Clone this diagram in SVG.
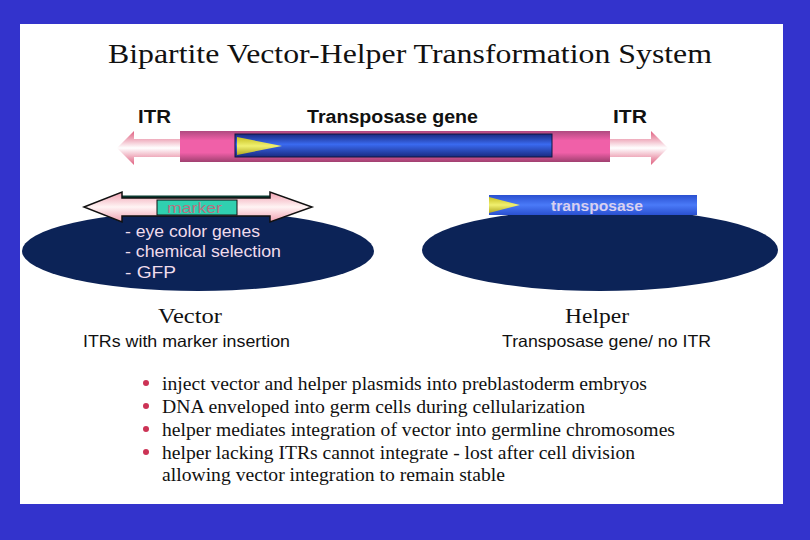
<svg xmlns="http://www.w3.org/2000/svg" width="810" height="540" viewBox="0 0 810 540">
<defs>
<style>
.sans{font-family:"Liberation Sans",Arial,sans-serif}
.serif{font-family:"Liberation Serif","Times New Roman",serif}
.lbl{font-size:17.5px;font-weight:bold;fill:#111}
.ell{fill:#0c2357}
.mk{font-size:16.5px;fill:#f0dcec}
.bul{font-size:19px;fill:#111}
.dot{fill:#cc3355}
</style>
<linearGradient id="pink" x1="0" y1="0" x2="0" y2="1">
<stop offset="0" stop-color="#b04a80"/><stop offset="0.3" stop-color="#f060a8"/><stop offset="0.7" stop-color="#f060a8"/><stop offset="1" stop-color="#a04070"/>
</linearGradient>
<linearGradient id="blue" x1="0" y1="0" x2="0" y2="1">
<stop offset="0" stop-color="#1a2a80"/><stop offset="0.45" stop-color="#3a6af0"/><stop offset="1" stop-color="#1a2a80"/>
</linearGradient>
<linearGradient id="blue2" x1="0" y1="0" x2="0" y2="1">
<stop offset="0" stop-color="#2a50d0"/><stop offset="0.5" stop-color="#4a7af8"/><stop offset="1" stop-color="#2a50d0"/>
</linearGradient>
<linearGradient id="wp" x1="0" y1="0" x2="0" y2="1">
<stop offset="0" stop-color="#e06080"/><stop offset="0.5" stop-color="#ffffff"/><stop offset="1" stop-color="#e06080"/>
</linearGradient>
<linearGradient id="wp2" x1="0" y1="0" x2="0" y2="1">
<stop offset="0" stop-color="#f0a0b0"/><stop offset="0.5" stop-color="#fff4f4"/><stop offset="1" stop-color="#f0a0b0"/>
</linearGradient>
<linearGradient id="yel" x1="0" y1="0" x2="0" y2="1">
<stop offset="0" stop-color="#c8c020"/><stop offset="0.5" stop-color="#f0f070"/><stop offset="1" stop-color="#b0a820"/>
</linearGradient>
</defs>
<rect x="0" y="0" width="810" height="540" fill="#3333cc"/>
<rect x="20" y="24" width="763" height="480" fill="#ffffff"/>
<text class="serif" x="108" y="63" font-size="27" textLength="604" lengthAdjust="spacingAndGlyphs" fill="#111">Bipartite Vector-Helper Transformation System</text>

<g id="construct">
<text class="sans lbl" x="138" y="123" textLength="33" lengthAdjust="spacingAndGlyphs">ITR</text>
<text class="sans lbl" x="307" y="123" textLength="171" lengthAdjust="spacingAndGlyphs">Transposase gene</text>
<text class="sans lbl" x="613" y="123" textLength="34" lengthAdjust="spacingAndGlyphs">ITR</text>
<polygon points="117,148 134,131 134,139 182,139 182,157 134,157 134,165" fill="url(#wp)"/>
<polygon points="668,148 651,131 651,139 608,139 608,157 651,157 651,165" fill="url(#wp)"/>
<rect x="180" y="131" width="430" height="31" fill="url(#pink)"/>
<rect x="235" y="134" width="317" height="23" fill="url(#blue)" stroke="#101840" stroke-width="1"/>
<polygon points="237,137 282,146 237,155" fill="url(#yel)"/>
</g>

<g id="vector">
<ellipse class="ell" cx="198" cy="251" rx="176" ry="40"/>
<line x1="122" y1="197" x2="270" y2="197" stroke="#0a3a30" stroke-width="3"/>
<polygon points="84,207 122,192 122,198 270,198 270,192 312,207 270,222 270,216 122,216 122,222" fill="url(#wp2)" stroke="#111" stroke-width="1.5"/>
<rect x="157" y="200" width="80" height="15" fill="#30d0b0" stroke="#111" stroke-width="1"/>
<text class="sans" x="167" y="213" font-size="14.5" textLength="55" lengthAdjust="spacingAndGlyphs" fill="#b87080">marker</text>
<text class="sans mk" x="125" y="237" textLength="135" lengthAdjust="spacingAndGlyphs">- eye color genes</text>
<text class="sans mk" x="125" y="257" textLength="156" lengthAdjust="spacingAndGlyphs">- chemical selection</text>
<text class="sans mk" x="125" y="278" textLength="51" lengthAdjust="spacingAndGlyphs">- GFP</text>
<text class="serif" x="158" y="323" font-size="22" textLength="64" lengthAdjust="spacingAndGlyphs" fill="#111">Vector</text>
<text class="sans" x="83" y="347" font-size="16.5" textLength="207" lengthAdjust="spacingAndGlyphs" fill="#111">ITRs with marker insertion</text>
</g>

<g id="helper">
<ellipse class="ell" cx="600" cy="250" rx="178" ry="41"/>
<rect x="489" y="195" width="208" height="20" fill="url(#blue2)"/>
<polygon points="489,197 520,205 489,213" fill="url(#yel)"/>
<text class="sans" x="551" y="211" font-size="15.5" font-weight="bold" textLength="92" lengthAdjust="spacingAndGlyphs" fill="#d8d0f0">transposase</text>
<text class="serif" x="565" y="323" font-size="22" textLength="64" lengthAdjust="spacingAndGlyphs" fill="#111">Helper</text>
<text class="sans" x="502" y="347" font-size="16.5" textLength="209" lengthAdjust="spacingAndGlyphs" fill="#111">Transposase gene/ no ITR</text>
</g>

<g id="bullets">
<circle class="dot" cx="146" cy="383" r="3"/>
<circle class="dot" cx="146" cy="406" r="3"/>
<circle class="dot" cx="146" cy="429" r="3"/>
<circle class="dot" cx="146" cy="452" r="3"/>
<text class="serif bul" x="162" y="390" textLength="485" lengthAdjust="spacingAndGlyphs">inject vector and helper plasmids into preblastoderm embryos</text>
<text class="serif bul" x="162" y="413" textLength="423" lengthAdjust="spacingAndGlyphs">DNA enveloped into germ cells during cellularization</text>
<text class="serif bul" x="162" y="436" textLength="513" lengthAdjust="spacingAndGlyphs">helper mediates integration of vector into germline chromosomes</text>
<text class="serif bul" x="162" y="459" textLength="473" lengthAdjust="spacingAndGlyphs">helper lacking ITRs cannot integrate - lost after cell division</text>
<text class="serif bul" x="162" y="481" textLength="343" lengthAdjust="spacingAndGlyphs">allowing vector integration to remain stable</text>
</g>
<g id="connectors"></g>
</svg>
